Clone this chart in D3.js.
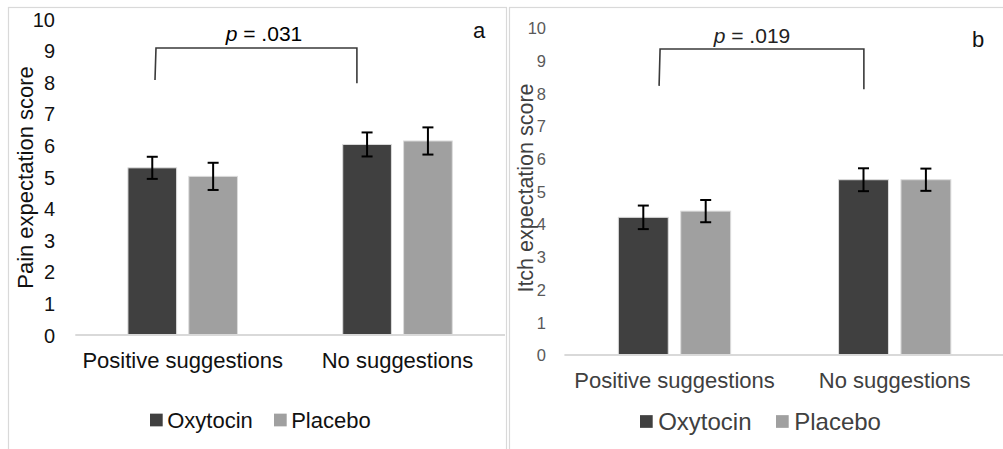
<!DOCTYPE html>
<html>
<head>
<meta charset="utf-8">
<script src="https://cdn.jsdelivr.net/npm/d3@7"></script>
<style>
html,body{margin:0;padding:0;background:#fff;}
svg{display:block;font-family:"Liberation Sans",Arial,sans-serif;}
</style>
</head>
<body>
<svg id="chart" width="1003" height="449"></svg>
<script>
// ---- data ----
const categories = ["Positive suggestions", "No suggestions"];
const seriesNames = ["Oxytocin", "Placebo"];
const seriesColors = ["#404040", "#a0a0a0"];
const yTicks = [0,1,2,3,4,5,6,7,8,9,10];

const painOxytocin = [5.29, 6.03];
const painPlacebo  = [5.02, 6.14];
const painOxytocinErr = [0.35, 0.38];
const painPlaceboErr  = [0.43, 0.43];

const itchOxytocin = [4.21, 5.36];
const itchPlacebo  = [4.40, 5.36];
const itchOxytocinErr = [0.36, 0.35];
const itchPlaceboErr  = [0.34, 0.34];

const pLabels = [".031", ".019"];
const panelLetters = ["a", "b"];
const yTitles = ["Pain expectation score", "Itch expectation score"];
// bracket: [top, left-leg bottom, right-leg bottom] in score units
const painBracket = [9.08, 8.07, 7.97];
const itchBracket = [9.36, 8.23, 8.13];

// ---- layout ----
const svg = d3.select("#chart");

// panel frames
svg.append("rect").attr("x",8.5).attr("y",7.5).attr("width",498).attr("height",460)
  .attr("fill","none").attr("stroke","#d9d9d9").attr("stroke-width",1.2);
svg.append("rect").attr("x",509.5).attr("y",7.5).attr("width",520).attr("height",460)
  .attr("fill","none").attr("stroke","#d9d9d9").attr("stroke-width",1.2);

const panels = [
  {
    oxy: painOxytocin, pla: painPlacebo, oxyErr: painOxytocinErr, plaErr: painPlaceboErr,
    bracket: painBracket, p: pLabels[0], letter: panelLetters[0], title: yTitles[0],
    x0: 75.3, x1: 504.9, baseEnd: 505, y0: 335, y10: 19,
    tickX: 55, tickSize: 20, tickColor: "#111", textColor: "#111",
    titleX: 33, titleY: 177.5, titleSize: 22,
    catY: 368, catSize: 22,
    legY: 420, legSize: 22, legSq: 12.7, legX: [150, 274], legGap: 4.5,
    brL: 0.371, brR: 0.311, pX: 264, pY: 41, pSize: 21,
    letterX: 479, letterY: 38, letterSize: 22
  },
  {
    oxy: itchOxytocin, pla: itchPlacebo, oxyErr: itchOxytocinErr, plaErr: itchPlaceboErr,
    bracket: itchBracket, p: pLabels[1], letter: panelLetters[1], title: yTitles[1],
    x0: 564.4, x1: 1004.8, baseEnd: 1003, y0: 355, y10: 28,
    tickX: 546, tickSize: 16.5, tickColor: "#595959", textColor: "#404040",
    titleX: 533, titleY: 188, titleSize: 21.5,
    catY: 388, catSize: 22,
    legY: 421.5, legSize: 24, legSq: 12.7, legX: [640, 776], legGap: 5.5,
    brL: 0.43, brR: 0.36, pX: 752, pY: 43, pSize: 21,
    letterX: 978, letterY: 46.5, letterSize: 22
  }
];

panels.forEach(P => {
  const g = svg.append("g");
  const x = d3.scaleBand().domain(categories).range([P.x0, P.x1])
    .paddingInner(0.49).paddingOuter(0.245);
  const xs = d3.scaleBand().domain(seriesNames).range([0, x.bandwidth()]).paddingInner(0.2);
  const y = d3.scaleLinear().domain([0, 10]).range([P.y0, P.y10]);
  const step = x.step();
  const slotStart = c => x(c) - x.paddingOuter() * step;

  // y tick labels
  const yAxis = d3.axisLeft(y).tickValues(yTicks).tickSize(0).tickPadding(0).tickFormat(d3.format("d"));
  const ya = g.append("g").attr("transform", `translate(${P.tickX},0)`).call(yAxis);
  ya.select(".domain").remove();
  ya.selectAll("text").attr("font-size", P.tickSize).attr("fill", P.tickColor)
    .attr("font-family", '"Liberation Sans",Arial,sans-serif').attr("dy", "0.35em");

  // y title
  g.append("text").attr("transform", `translate(${P.titleX},${P.titleY}) rotate(-90)`)
    .attr("text-anchor", "middle").attr("font-size", P.titleSize).attr("fill", P.textColor)
    .text(P.title);

  // bars
  const rows = [];
  categories.forEach((c, i) => {
    rows.push({cat: c, s: seriesNames[0], v: P.oxy[i], e: P.oxyErr[i], col: seriesColors[0]});
    rows.push({cat: c, s: seriesNames[1], v: P.pla[i], e: P.plaErr[i], col: seriesColors[1]});
  });
  g.selectAll("rect.bar").data(rows).join("rect").attr("class", "bar")
    .attr("x", d => x(d.cat) + xs(d.s))
    .attr("y", d => y(d.v))
    .attr("width", xs.bandwidth())
    .attr("height", d => y(0) - y(d.v))
    .attr("fill", d => d.col)
    .attr("stroke", "#dcdcdc").attr("stroke-width", 1);

  // baseline (x axis)
  const xAxis = d3.axisBottom(x).tickSize(0).tickPadding(0);
  const xa = g.append("g").attr("transform", `translate(0,${P.y0})`).call(xAxis);
  xa.select(".domain").remove();
  xa.selectAll("text").remove();
  g.append("line").attr("x1", P.x0).attr("x2", P.baseEnd).attr("y1", P.y0).attr("y2", P.y0)
    .attr("stroke", "#d9d9d9").attr("stroke-width", 2);
  g.selectAll("text.cat").data(categories).join("text").attr("class", "cat")
    .attr("x", d => x(d) + x.bandwidth() / 2).attr("y", P.catY)
    .attr("text-anchor", "middle").attr("font-size", P.catSize).attr("fill", P.textColor)
    .text(d => d);

  // error bars
  const eg = g.selectAll("g.err").data(rows).join("g").attr("class", "err")
    .attr("stroke", "#000").attr("stroke-width", 2);
  const cx = d => x(d.cat) + xs(d.s) + xs.bandwidth() / 2;
  eg.append("line").attr("x1", cx).attr("x2", cx).attr("y1", d => y(d.v + d.e)).attr("y2", d => y(d.v - d.e));
  eg.append("line").attr("x1", d => cx(d) - 5.5).attr("x2", d => cx(d) + 5.5).attr("y1", d => y(d.v + d.e)).attr("y2", d => y(d.v + d.e));
  eg.append("line").attr("x1", d => cx(d) - 5.5).attr("x2", d => cx(d) + 5.5).attr("y1", d => y(d.v - d.e)).attr("y2", d => y(d.v - d.e));

  // significance bracket
  const bxL = slotStart(categories[0]) + P.brL * step;
  const bxR = slotStart(categories[1]) + P.brR * step;
  g.append("path")
    .attr("d", `M${bxL},${y(P.bracket[1])} L${bxL + 1},${y(P.bracket[0])} L${bxR},${y(P.bracket[0])} L${bxR},${y(P.bracket[2])}`)
    .attr("fill", "none").attr("stroke", "#3a3a3a").attr("stroke-width", 1.6);
  const pt = g.append("text").attr("x", P.pX).attr("y", P.pY).attr("text-anchor", "middle")
    .attr("font-size", P.pSize).attr("fill", P.textColor === "#111" ? "#000" : "#222");
  pt.append("tspan").attr("font-style", "italic").text("p");
  pt.append("tspan").text(" = " + P.p);

  // panel letter
  g.append("text").attr("x", P.letterX).attr("y", P.letterY).attr("text-anchor", "middle")
    .attr("font-size", P.letterSize).attr("fill", "#111").text(P.letter);

  // legend
  seriesNames.forEach((s, i) => {
    g.append("rect").attr("x", P.legX[i]).attr("y", P.legY - P.legSq / 2)
      .attr("width", P.legSq).attr("height", P.legSq).attr("fill", seriesColors[i]);
    g.append("text").attr("x", P.legX[i] + P.legSq + P.legGap).attr("y", P.legY)
      .attr("dy", "0.36em").attr("font-size", P.legSize).attr("fill", P.textColor).text(s);
  });
});
</script>
</body>
</html>
